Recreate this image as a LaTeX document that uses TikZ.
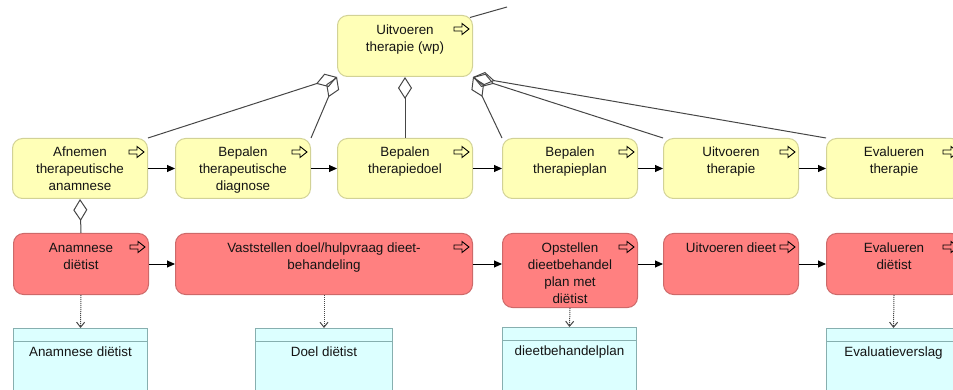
\documentclass[tikz,border=0pt]{standalone}
\usepackage{fontspec}
\setmainfont{Liberation Sans}
\usetikzlibrary{arrows.meta}

\definecolor{procfill}{RGB}{255,255,183}
\definecolor{procdraw}{RGB}{210,210,150}
\definecolor{actfill}{RGB}{255,128,128}
\definecolor{actdraw}{RGB}{205,105,105}
\definecolor{docfill}{RGB}{220,255,255}
\definecolor{docdraw}{RGB}{135,175,175}
\definecolor{linkgray}{RGB}{70,70,70}

\tikzset{
  box/.style={rounded corners=10pt, line width=1pt, inner sep=0pt,
    minimum width=135pt, minimum height=61pt, anchor=north west},
  proc/.style={box, fill=procfill, draw=procdraw},
  act/.style={box, fill=actfill, draw=actdraw},
  doc/.style={draw=docdraw, fill=docfill, line width=1pt, inner sep=0pt,
    minimum width=134pt, minimum height=70pt, anchor=north west},
  lbl/.style={anchor=north, inner sep=0pt, align=center,
    font=\fontsize{13.4}{17}\selectfont, text=black!92},
  flow/.style={line width=1pt, -{Triangle[length=8pt,width=7pt]}},
  part/.style={draw=linkgray, line width=1pt, {Diamond[open,length=22pt,width=14pt]}-},
  result/.style={draw=linkgray, line width=1pt, densely dotted,
    -{Straight Barb[length=5pt,width=8pt]}},
  pics/flowmark/.style={code={
    \draw[line width=0.9pt, line join=miter]
      (-8,-2) -- (0,-2) -- (0,-5.5) -- (7,0) -- (0,5.5) -- (0,2) -- (-8,2) -- cycle;
  }}
}

\begin{document}
\begin{tikzpicture}[x=1pt, y=-1pt]
\clip (0,0) rectangle (953,390);

% parent process
\node[proc] (top) at (337,15) {};
\node[lbl] (toptxt) at ([yshift=-10pt]top.north) {Uitvoeren\\therapie (wp)};

% process steps
\node[proc, minimum height=60pt] (y1) at (12,138) {};
\node[proc, minimum height=60pt] (y2) at (175,138) {};
\node[proc, minimum height=60pt] (y3) at (337,138) {};
\node[proc, minimum height=60pt] (y4) at (502,138) {};
\node[proc, minimum height=60pt] (y5) at (663,138) {};
\node[proc, minimum height=60pt] (y6) at (826,138) {};
\node[lbl] (y1t) at ([yshift=-9pt]y1.north) {Afnemen\\therapeutische\\anamnese};
\node[lbl] (y2t) at ([yshift=-9pt]y2.north) {Bepalen\\therapeutische\\diagnose};
\node[lbl] (y3t) at ([yshift=-9pt]y3.north) {Bepalen\\therapiedoel};
\node[lbl] (y4t) at ([yshift=-9pt]y4.north) {Bepalen\\therapieplan};
\node[lbl] (y5t) at ([yshift=-9pt]y5.north) {Uitvoeren\\therapie};
\node[lbl] (y6t) at ([yshift=-9pt]y6.north) {Evalueren\\therapie};

% dietitian activities
\node[act] (r1) at (13,233) {};
\node[act, minimum width=297pt] (r2) at (175,233) {};
\node[act, minimum height=74pt] (r3) at (502,233) {};
\node[act] (r4) at (663,233) {};
\node[act] (r5) at (826,233) {};
\node[lbl] (r1t) at ([yshift=-10pt]r1.north) {Anamnese\\diëtist};
\node[lbl] (r2t) at ([yshift=-10pt]r2.north) {Vaststellen doel/hulpvraag dieet-\\behandeling};
\node[lbl] (r3t) at ([yshift=-10pt]r3.north) {Opstellen\\dieetbehandel\\plan met\\diëtist};
\node[lbl] (r4t) at ([yshift=-10pt]r4.north) {Uitvoeren dieet};
\node[lbl] (r5t) at ([yshift=-10pt]r5.north) {Evalueren\\diëtist};

% documents
\node[doc] (c1) at (13,328) {};
\node[doc, minimum width=137pt] (c2) at (255,328) {};
\node[doc] (c3) at (502,327) {};
\node[doc] (c4) at (826,328) {};
\foreach \c in {c1,c2,c3,c4}
  \draw[draw=docdraw, line width=1pt] ([yshift=-13pt]\c.north west) -- ([yshift=-13pt]\c.north east);
\node[lbl] (c1t) at ([yshift=-19pt]c1.north) {Anamnese diëtist};
\node[lbl] (c2t) at ([yshift=-19pt]c2.north) {Doel diëtist};
\node[lbl] (c3t) at ([yshift=-19pt]c3.north) {dieetbehandelplan};
\node[lbl] (c4t) at ([yshift=-19pt]c4.north) {Evaluatieverslag};

% process markers
\foreach \n in {top,y1,y2,y3,y4,y5,y6,r1,r2,r3,r4,r5}
  \pic at ([xshift=-11pt,yshift=-14pt]\n.north east) {flowmark};

% composition links
\coordinate (ext) at (507,7);
\draw[linkgray, line width=1pt] ([xshift=-3pt,yshift=-2.5pt]top.north east) -- (ext);
\draw[part] (top.south west) -- (y1.north east);
\draw[part] (top.south west) -- (y2.north east);
\draw[part] (top.south) -- (y3.north);
\draw[part] (top.south east) -- (y4.north west);
\draw[part] (top.south east) -- (y5.north west);
\draw[part] (top.south east) -- (y6.north west);
\draw[part] (y1.south) -- (r1.north);

% sequence flows
\draw[flow] (y1.east) -- (y2.west);
\draw[flow] (y2.east) -- (y3.west);
\draw[flow] (y3.east) -- (y4.west);
\draw[flow] (y4.east) -- (y5.west);
\draw[flow] (y5.east) -- (y6.west);
\draw[flow] (r1.east) -- (r2.west);
\draw[flow] (r2.east) -- (r2.east -| r3.west);
\draw[flow] (r2.east -| r3.east) -- (r4.west);
\draw[flow] (r4.east) -- (r5.west);

% produced documents
\draw[result] (r1.south) -- (c1.north);
\draw[result] (r2.south) -- (c2.north);
\draw[result] (r3.south) -- (c3.north);
\draw[result] (r5.south) -- (c4.north);
\end{tikzpicture}
\end{document}
